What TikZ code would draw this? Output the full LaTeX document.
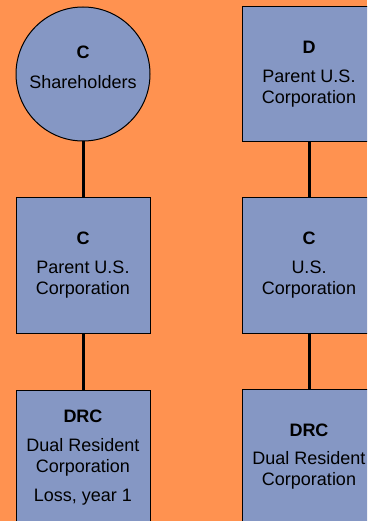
\documentclass[tikz,border=0pt]{standalone}
\usepackage{fontspec}
\setmainfont{Liberation Sans}
\definecolor{bgorange}{RGB}{255,146,80}
\definecolor{boxblue}{RGB}{133,151,196}
\begin{document}
\begin{tikzpicture}[x=1pt,y=-1pt,
  entity/.style={draw=black,line width=1pt,fill=boxblue,minimum width=134pt,minimum height=135pt,inner sep=0pt,align=center,
    font=\fontsize{18}{21}\selectfont},
  holder/.style={circle,draw=black,line width=1pt,fill=boxblue,minimum size=134pt,inner sep=0pt,align=center,
    font=\fontsize{18}{21}\selectfont},
  link/.style={line width=3pt,black}]
\fill[bgorange] (0,0) rectangle (367,521);
\useasboundingbox (0,0) rectangle (367,521);
\clip (0,0) rectangle (367,521);
\node[holder] (sh) at (83,74) {\textbf{C}\\[9pt]Shareholders\rule[-13pt]{0pt}{0pt}};
\node[entity] (pc) at (83,265.5) {\textbf{C}\\[8pt]Parent U.S.\\Corporation};
\node[entity] (drc1) at (83,457.5) {\textbf{DRC}\\[8pt]Dual Resident\\Corporation\\[8pt]Loss, year 1};
\node[entity] (pd) at (309,74) {\textbf{D}\\[8pt]Parent U.S.\\Corporation};
\node[entity] (us) at (309,265.5) {\textbf{C}\\[8pt]U.S.\\Corporation};
\node[entity] (drc2) at (309,457) {\textbf{DRC}\\[7pt]Dual Resident\\Corporation};
\draw[link] (sh.south) -- (pc.north);
\draw[link] (pc.south) -- (drc1.north);
\draw[link] (pd.south) -- (us.north);
\draw[link] (us.south) -- (drc2.north);
\end{tikzpicture}
\end{document}
